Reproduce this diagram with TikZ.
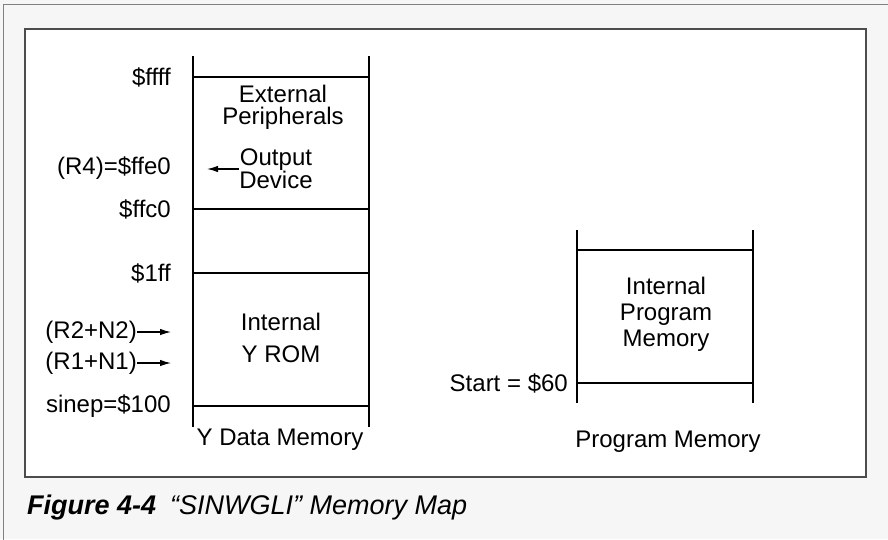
\documentclass[tikz,border=0pt]{standalone}
\usepackage{fontspec}
\setmainfont{Liberation Sans}
\usetikzlibrary{arrows.meta}
\usetikzlibrary{positioning}

\begin{document}
\begin{tikzpicture}[x=1pt,y=-1pt,>={Latex[length=11pt,width=6.5pt]},node distance=22pt]
  \tikzstyle{every node}=[inner sep=0pt, align=center, font=\fontsize{24}{22}\selectfont]
  \tikzstyle{memline}=[line width=1.1pt]
  \tikzstyle{pointer}=[->, line width=1.1pt]
  \tikzstyle{addr}=[anchor=east]
  \useasboundingbox (0,0) rectangle (888,539);
  % frames
  \fill[gray!7] (0,0) rectangle (888,539);
  \draw[gray, line width=1pt] (3,545) -- (3,4) -- (895,4);
  \draw[black!70, fill=white, line width=1.3pt] (25,29) rectangle (866,477);

  % Y data memory
  \draw[memline] (193,56) -- (193,427) (369,56) -- (369,427);
  \foreach \y/\name in {77/ffff, 209/ffc0, 273/oneff, 406/sinep}
    \draw[memline] (193,\y) coordinate (\name) -- (369,\y);
  \node[left=of ffff] (lffff) {\$ffff};
  \node[left=of ffc0] (lffc0) {\$ffc0};
  \node[left=of oneff] (loneff) {\$1ff};
  \node[left=of sinep] (lsinep) {sinep=\$100};
  \node[addr] (lr4) at (171,168) {(R4)=\$ffe0};
  \node (ext) at (283,107) {External\\Peripherals};
  \node[font=\fontsize{24}{19}\selectfont] (outdev) at (276,169) {Output\\Device};
  \coordinate[left=32pt of outdev.west] (outtip);
  \draw[pointer] (outdev.west) -- (outtip);
  \node[font=\fontsize{24}{32}\selectfont] (yrom) at (281,338) {Internal\\Y ROM};
  \node[addr] (lr2) at (137,332) {(R2+N2)};
  \node[addr] (lr1) at (137,363) {(R1+N1)};
  \coordinate (r2tip) at (171,332);
  \coordinate (r1tip) at (171,363);
  \draw[pointer] (lr2) -- (r2tip);
  \draw[pointer] (lr1) -- (r1tip);
  \node (ydata) at (280,440) {Y Data Memory};

  % program memory
  \draw[memline] (577,230) -- (577,403) (753,230) -- (753,403);
  \draw[memline] (577,250) -- (753,250);
  \draw[memline] (577,383) coordinate (start) -- (753,383);
  \node[left=9pt of start] (lstart) {Start = \$60};
  \node[font=\fontsize{24}{26}\selectfont] (ipm) at (666,314) {Internal\\Program\\Memory};
  \node (pmem) at (668,442) {Program Memory};

  % caption
  \node[anchor=west, font=\fontsize{27}{28}\selectfont\itshape] (caption) at (27,508)
    {\bfseries Figure 4-4\hspace{14pt}\mdseries “SINWGLI” Memory Map};
\end{tikzpicture}
\end{document}
